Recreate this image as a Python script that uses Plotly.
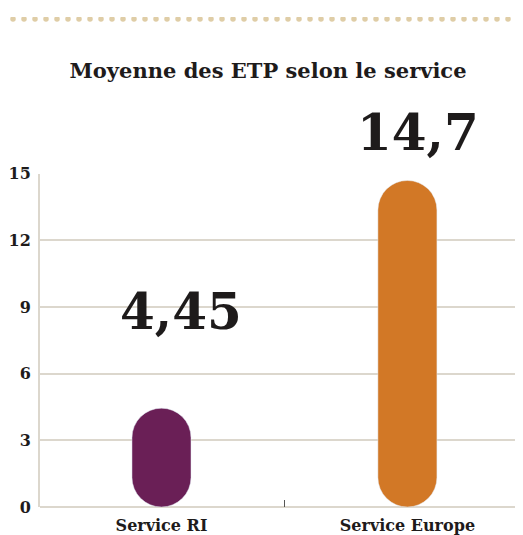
import plotly.graph_objects as go

services = ['Service RI', 'Service Europe']
etp = [4.45, 14.7]
colors = ['#6a1f56', '#d27826']
y_ticks = [0, 3, 6, 9, 12, 15]
y_max = 15

serif = 'DejaVu Serif'
grid_col = '#dcd7cd'
dom_top = 0.68

fig = go.Figure()

fig.add_trace(go.Bar(x=services, y=etp, base=[0, 0], marker_color=colors,
                     width=0.24, marker_cornerradius='50%', hoverinfo='skip'))

# dotted ornament along the top (own hidden axes, pixel-like units)
n_dots = 46
fig.add_trace(go.Scatter(x=[5 + 11 * i for i in range(n_dots)], y=[0.75] * n_dots,
                         mode='markers', xaxis='x2', yaxis='y2', hoverinfo='skip',
                         marker=dict(size=5.5, color='#dfcda6')))

# big value labels (y given in data units, converted to paper)
label_pos = [(0.079, 8.78), (1.043, 16.84)]
for (xv, yv), v in zip(label_pos, etp):
    txt = ('%g' % v).replace('.', ',')
    fig.add_annotation(x=xv, y=dom_top * yv / y_max, xref='x', yref='paper', text=txt,
                       showarrow=False, xanchor='center', yanchor='middle',
                       font=dict(family=serif, size=50, color='#1e1b1b', weight='bold'))

# page has an 8px body margin, so the figure is 8px smaller and shifted
W, H = 515, 527
fig.update_layout(
    width=W, height=H,
    margin=dict(l=0, r=0, t=4, b=24),
    barmode='overlay',
    showlegend=False,
    plot_bgcolor='white', paper_bgcolor='white',
    title=dict(text='Moyenne des ETP selon le service', x=0.505, xanchor='center',
               y=0.882, yanchor='middle',
               font=dict(family=serif, size=21, color='#1e1b1b', weight='bold')),
    xaxis=dict(domain=[32 / W, 1], range=[-0.494, 1.47], showgrid=False, showline=False, zeroline=False,
               ticks='inside', tickson='boundaries', ticklen=7, tickcolor='#555555',
               ticklabelstandoff=7,
               tickfont=dict(family=serif, size=16, color='#1e1b1b', weight='bold')),
    yaxis=dict(domain=[0, dom_top], range=[0, y_max], tickvals=y_ticks, showgrid=True,
               gridcolor=grid_col, gridwidth=2,
               zeroline=True, zerolinecolor=grid_col, zerolinewidth=2,
               showline=True, linecolor=grid_col, linewidth=2, ticks='',
               ticklabelstandoff=4,
               tickfont=dict(family=serif, size=16, color='#1e1b1b', weight='bold')),
    xaxis2=dict(domain=[0, 1], range=[0, W], anchor='y2', visible=False, fixedrange=True),
    yaxis2=dict(domain=[0.984, 1], range=[0, 1], anchor='x2', visible=False, fixedrange=True),
)

fig.write_html('out.html')
